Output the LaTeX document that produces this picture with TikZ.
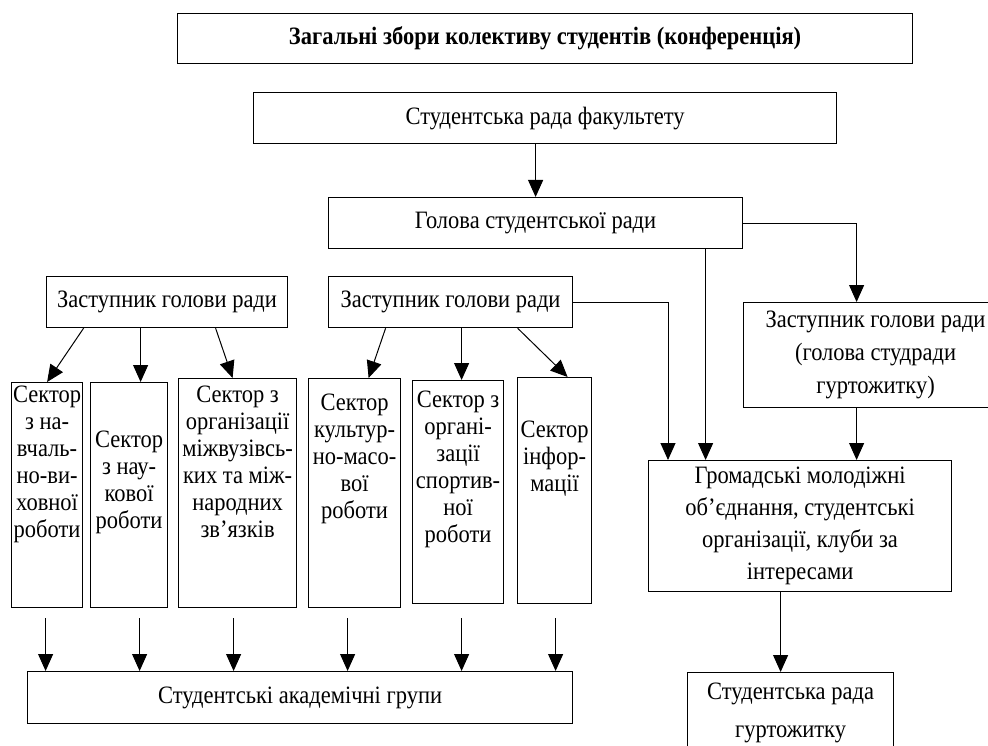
\documentclass[tikz,border=0pt]{standalone}
\usepackage{fontspec}
\setmainfont{Liberation Serif}[FakeStretch=0.9]
\usetikzlibrary{arrows.meta}

\tikzset{
  box/.style={draw, line width=1.2pt, inner sep=0pt, anchor=north west, align=center, font=\fontsize{25}{28}\selectfont},
  sectbox/.style={draw, line width=1.2pt, inner sep=0pt, anchor=north west},
  secttext/.style={anchor=north, inner sep=0pt, align=center, font=\fontsize{25}{27}\selectfont},
  arr/.style={-{Triangle[width=15pt,length=17pt]}, line width=1pt},
}

\begin{document}
\begin{tikzpicture}[x=1pt, y=-1pt]
  \useasboundingbox (0,0) rectangle (988,746);

  % Define nodes
  \node[box, minimum width=735pt, minimum height=50pt, font=\fontsize{25}{28}\selectfont\bfseries] (meeting) at (177,13) {Загальні збори колективу студентів (конференція)};
  \node[box, minimum width=583pt, minimum height=51pt] (council) at (253,92) {Студентська рада факультету};
  \node[box, minimum width=414pt, minimum height=51pt] (head) at (328,197) {Голова студентської ради};
  \node[box, minimum width=241pt, minimum height=51pt] (depA) at (46,276) {Заступник голови ради};
  \node[box, minimum width=244pt, minimum height=51pt] (depB) at (328,276) {Заступник голови ради};
  \node[box, minimum width=264pt, minimum height=105pt, font=\fontsize{25}{33}\selectfont] (depC) at (743,302) {Заступник голови ради\\(голова студради\\гуртожитку)};
  \node[box, minimum width=303pt, minimum height=131pt, font=\fontsize{25}{32}\selectfont] (ngo) at (648,460) {Громадські молодіжні\\об’єднання, студентські\\організації, клуби за\\інтересами};
  \node[box, minimum width=545pt, minimum height=52pt] (groups) at (27,671) {Студентські академічні групи};
  \node[box, minimum width=206pt, minimum height=80pt, font=\fontsize{25}{38}\selectfont] (dorm) at (687,672) {Студентська рада\\гуртожитку};

  % Sectors
  \node[sectbox, minimum width=71pt, minimum height=225pt] (s1) at (11,382) {};
  \node[sectbox, minimum width=77pt, minimum height=225pt] (s2) at (90,382) {};
  \node[sectbox, minimum width=118pt, minimum height=229pt] (s3) at (178,378) {};
  \node[sectbox, minimum width=92pt, minimum height=229pt] (s4) at (308,378) {};
  \node[sectbox, minimum width=91pt, minimum height=223pt] (s5) at (412,380) {};
  \node[sectbox, minimum width=74pt, minimum height=226pt] (s6) at (517,377) {};

  \node[secttext] (s1t) at ([yshift=-4pt]s1.north) {Сектор\\з на-\\вчаль-\\но-ви-\\ховної\\роботи};
  \node[secttext] (s2t) at ([yshift=-49pt]s2.north) {Сектор\\з нау-\\кової\\роботи};
  \node[secttext] (s3t) at ([yshift=-8pt]s3.north) {Сектор з\\організації\\міжвузівсь-\\ких та між-\\народних\\зв’язків};
  \node[secttext] (s4t) at ([yshift=-16pt]s4.north) {Сектор\\культур-\\но-масо-\\вої\\роботи};
  \node[secttext] (s5t) at ([yshift=-11pt]s5.north) {Сектор з\\органі-\\зації\\спортив-\\ної\\роботи};
  \node[secttext] (s6t) at ([yshift=-44pt]s6.north) {Сектор\\інфор-\\мації};

  % Links
  \draw[arr] (head.north |- council.south) -- (head.north);
  \draw[arr] (head.east) -| ([xshift=-19pt]depC.north);
  \draw[arr] ([xshift=170pt]head.south) -- ([xshift=170pt]head.south |- ngo.north);
  \draw[arr] (depB.east) -| ([xshift=20pt]ngo.north west);
  \draw[arr] ([xshift=-19pt]depC.south) -- ([xshift=-19pt]depC.south |- ngo.north);
  \draw[arr] ([xshift=-10pt]dorm.north |- ngo.south) -- ([xshift=-10pt]dorm.north);

  \draw[arr] ([xshift=-83.5pt]depA.south) -- (s1.north);
  \draw[arr] ([xshift=-26.5pt]depA.south) -- ([xshift=-26.5pt]depA.south |- s2.north);
  \draw[arr] ([xshift=48.5pt]depA.south) -- ([xshift=-5pt]s3.north);
  \draw[arr] ([xshift=-65pt]depB.south) -- ([xshift=14pt]s4.north);
  \draw[arr] ([xshift=11pt]depB.south) -- ([xshift=11pt]depB.south |- s5.north);
  \draw[arr] ([xshift=67pt]depB.south) -- ([xshift=13pt]s6.north);

  \coordinate (gtop) at (0,618);
  \foreach \s/\dx in {s1/-1.5pt, s2/10.5pt, s3/-4pt, s4/-7pt, s5/3.5pt, s6/1pt}
    \draw[arr] ([xshift=\dx]\s.south |- gtop) -- ([xshift=\dx]\s.south |- groups.north);

\end{tikzpicture}
\end{document}
